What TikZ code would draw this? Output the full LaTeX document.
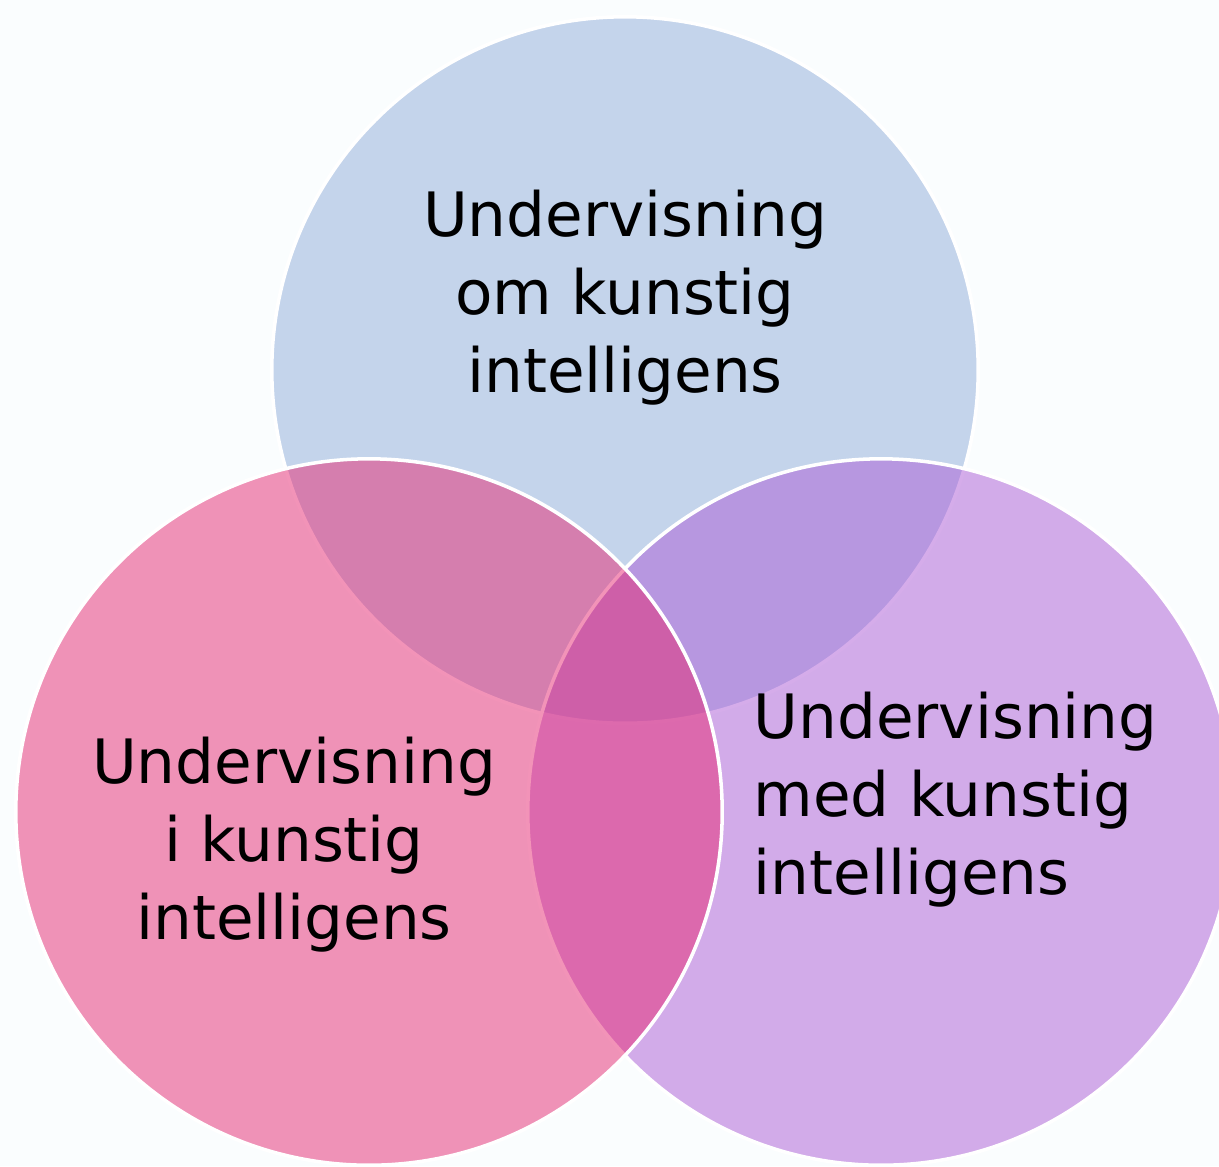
\documentclass[tikz,border=0pt]{standalone}
\usepackage{fontspec}
\setmainfont{DejaVu Sans}
\usepackage{xcolor}
\usepackage{tikz}
\usetikzlibrary{positioning}
\definecolor{bgwhite}{RGB}{250,253,254}
\definecolor{omblue}{RGB}{144,173,218}
\definecolor{medlilac}{RGB}{172,91,214}
\definecolor{ipink}{RGB}{230,41,114}
\tikzset{%
         venn/.style = { draw=white, line width=1pt, fill opacity=0.5 },
     venntext/.style = { black, inner sep=0pt, font=\fontsize{17.4}{22.2}\selectfont }
}
\begin{document}
\begin{tikzpicture}[x=0.01cm,y=-0.01cm]
\useasboundingbox (0,0) rectangle (1219,1166);
\fill[bgwhite] (0,0) rectangle (1219,1166);
\clip (0,0) rectangle (1219,1166);
\coordinate (O) at (625,370);
\coordinate (M) at (881,812);
\coordinate (I) at (369,812);
% sirkler: om, med, i
\draw[venn,fill=omblue] (O) circle[radius=3.53cm];
\draw[venn,fill=medlilac] (M) circle[radius=3.53cm];
\draw[venn,fill=ipink] (I) circle[radius=3.53cm];
\node[venntext,align=center] (om) at (625,298) {Undervisning\\om kunstig\\intelligens};
\node[venntext,align=center] (i) at (294,845) {Undervisning\\i kunstig\\intelligens};
\node[venntext,align=left,anchor=west] (med) at (753,800) {Undervisning\\med kunstig\\intelligens};
\end{tikzpicture}
\end{document}
